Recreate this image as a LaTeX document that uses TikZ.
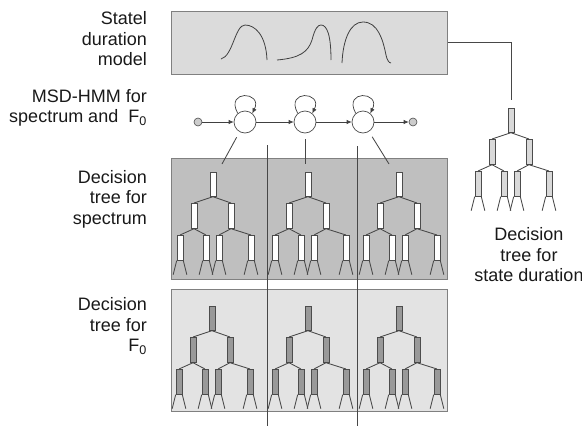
\documentclass[tikz,border=0pt]{standalone}
\usepackage{fontspec}
\setmainfont{Liberation Sans}
\usetikzlibrary{arrows.meta}

\tikzset{
  panel/.style={draw=black!50, line width=0.8pt, inner sep=0pt, anchor=north west},
  leaf/.style={draw=black!70, line width=0.7pt, inner sep=0pt, minimum width=6pt, minimum height=25pt, anchor=north},
  branch/.style={draw=black!72, line width=0.85pt},
  hmmstate/.style={circle, draw=black!70, line width=0.7pt, minimum size=22pt, inner sep=0pt, fill=white},
  term/.style={circle, draw=black!70, line width=0.6pt, fill=black!20, minimum size=8pt, inner sep=0pt},
  trans/.style={draw=black!75, line width=0.7pt, -{Latex[length=5pt,width=4.5pt]}},
  pdf/.style={draw=black!75, line width=0.8pt},
  sidetext/.style={font=\fontsize{18}{20.5}\selectfont, align=right, anchor=east, inner sep=0pt, text=black!90},
}

% binary decision tree: #1 name, #2 x of root, #3 top of root, #4 box fill
\newcommand\dtree[4]{
  \node[leaf, fill=#4, minimum height=24pt] (#1-r) at (#2,#3) {};
  \node[leaf, fill=#4] (#1-a) at ({#2-19},{#3+31}) {};
  \node[leaf, fill=#4] (#1-b) at ({#2+18},{#3+31}) {};
  \node[leaf, fill=#4] (#1-aa) at ({#2-33},{#3+63}) {};
  \node[leaf, fill=#4] (#1-ab) at ({#2-7},{#3+63}) {};
  \node[leaf, fill=#4] (#1-ba) at ({#2+6},{#3+63}) {};
  \node[leaf, fill=#4] (#1-bb) at ({#2+38},{#3+63}) {};
  \draw[branch] (#1-r.south) -- (#1-a.north);
  \draw[branch] (#1-r.south) -- (#1-b.north);
  \draw[branch] (#1-a.south) -- (#1-aa.north);
  \draw[branch] (#1-a.south) -- (#1-ab.north);
  \draw[branch] (#1-b.south) -- (#1-ba.north);
  \draw[branch] (#1-b.south) -- (#1-bb.north);
  \foreach \l in {aa,ab,ba,bb} {
    \draw[branch] (#1-\l.south west) -- ++(-3.5,14);
    \draw[branch] (#1-\l.south east) -- ++(3.5,14);
  }
}

\begin{document}
\begin{tikzpicture}[x=1pt, y=-1pt]
  \useasboundingbox (0,0) rectangle (582,426);

  % panels
  \node[panel, fill=black!14, minimum width=276pt, minimum height=63pt] (dur) at (171,11) {};
  \node[panel, fill=black!25, minimum width=276pt, minimum height=121pt] (spec) at (171,158) {};
  \node[panel, fill=black!11, minimum width=276pt, minimum height=122pt] (lf0) at (171,289) {};

  % duration densities
  \draw[pdf] (221,59) .. controls (233,56) and (235,25) .. (245,25)
    .. controls (255,25) and (266,35) .. (267,60);
  \draw[pdf] (277,60) .. controls (300,58) and (308,52) .. (312,40)
    .. controls (315,28) and (318,25) .. (321,25)
    .. controls (327,25) and (331,35) .. (331,60);
  \draw[pdf] (342,63) .. controls (343,40) and (350,22) .. (363,22)
    .. controls (378,22) and (383,40) .. (386,55)
    .. controls (387,60) and (389,63) .. (391,63);

  % HMM
  \node[term] (q0) at (198,122) {};
  \node[hmmstate] (s1) at (245,122) {};
  \node[hmmstate] (s2) at (305,122) {};
  \node[hmmstate] (s3) at (363,122) {};
  \node[term] (qf) at (413,122) {};
  \draw[trans] (q0) -- (s1);
  \draw[trans] (s1) -- (s2);
  \draw[trans] (s2) -- (s3);
  \draw[trans] (s3) -- (qf);
  \foreach \s in {s1,s2,s3}
    \draw[trans] (\s.130) .. controls +(-13,-24) and +(11,-22) .. (\s.50);

  % trees
  \dtree{sp1}{213}{172}{white}
  \dtree{sp2}{308}{172}{white}
  \dtree{sp3}{399}{172}{white}
  \dtree{fz1}{212}{306}{black!40}
  \dtree{fz2}{308}{306}{black!40}
  \dtree{fz3}{399}{306}{black!40}
  \dtree{dr}{511}{108}{black!15}

  % state -> tree links
  \coordinate (h1) at (222,164);
  \coordinate (h2) at (305,164);
  \coordinate (h3) at (389,164);
  \draw[branch, shorten <=6pt] (s1) -- (h1);
  \draw[branch, shorten <=6pt] (s2) -- (h2);
  \draw[branch, shorten <=6pt] (s3) -- (h3);
  \draw[branch] (dur.east) -| ([yshift=8pt]dr-r.north);

  % column dividers
  \draw[branch] (267,145) -- (267,426);
  \draw[branch] (357,146) -- (357,426);

  % labels
  \node[sidetext] (t-dur) at (147,39) {Statel\\duration\\model};
  \node[sidetext] (t-hmm) at (147,108) {MSD-HMM for\\spectrum and\ \ F\textsubscript{0}};
  \node[sidetext] (t-sp) at (147,199) {Decision\\tree for\\spectrum};
  \node[sidetext] (t-fz) at (147,326) {Decision\\tree for\\F\textsubscript{0}};
  \node[sidetext, align=center, anchor=center] (t-dr) at (529,255) {Decision\\tree for\\state duration};
\end{tikzpicture}
\end{document}
